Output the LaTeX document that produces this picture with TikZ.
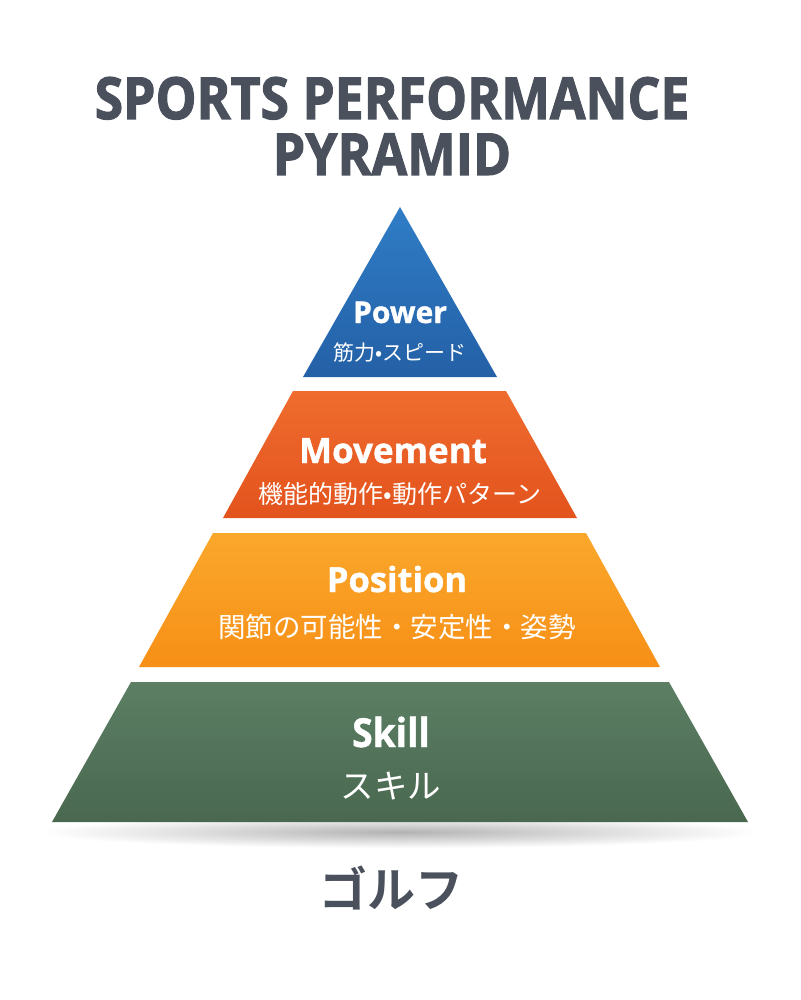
\documentclass[tikz,border=0pt]{standalone}
\usepackage{fontspec}
\setmainfont{Open Sans}
\newfontfamily\osb{Open Sans}[UprightFont=* Bold, FakeBold=1.2]
\newfontfamily\osbt{Open Sans}[UprightFont=* Bold, FakeBold=2]
\newfontfamily\jp{Noto Sans CJK JP}
\newfontfamily\jpb{Noto Sans CJK JP Bold}
\definecolor{titlegray}{HTML}{4A505C}
\definecolor{bluetop}{HTML}{2F7DC6}
\definecolor{bluebot}{HTML}{2460A6}
\definecolor{movtop}{HTML}{EF6C2E}
\definecolor{movbot}{HTML}{E3531D}
\definecolor{postop}{HTML}{FAA82C}
\definecolor{posbot}{HTML}{F78F16}
\definecolor{skitop}{HTML}{5C7F64}
\definecolor{skibot}{HTML}{49684F}
\begin{document}
\begin{tikzpicture}[x=1pt,y=-1pt,
  lbl/.style={text=white,anchor=base,inner sep=0pt},
  ttl/.style={text=titlegray,anchor=base,inner sep=0pt}]
\useasboundingbox[fill=white] (0,0) rectangle (800,1000);
% shadow
\shade[inner color=black!30,outer color=white] (400,832) ellipse (360 and 16);
% layers
\shade[top color=bluetop,bottom color=bluebot] (400,207) -- (497,377) -- (303,377) -- cycle;
\shade[top color=movtop,bottom color=movbot] (293,391) -- (506,391) -- (577,518) -- (223,518) -- cycle;
\shade[top color=postop,bottom color=posbot] (213,533) -- (586,533) -- (660,667) -- (139,667) -- cycle;
\shade[top color=skitop,bottom color=skibot] (131,682) -- (669,682) -- (748,822) -- (52,822) -- cycle;
% title
\node[ttl,font=\osbt\fontsize{58}{64}\selectfont] (t1) at (392,119) {\scalebox{0.89}[1]{SPORTS PERFORMANCE}};
\node[ttl,font=\osbt\fontsize{58}{64}\selectfont] (t2) at (392,175) {\scalebox{0.89}[1]{PYRAMID}};
% labels
\node[lbl,font=\osb\fontsize{30}{36}\selectfont] (p1) at (400,323) {Power};
\node[lbl,font=\jp\fontsize{21}{25}\selectfont] (p2) at (400,360) {筋力•スピード};
\node[lbl,font=\osb\fontsize{35}{40}\selectfont] (m1) at (393,463) {Movement};
\node[lbl,font=\jp\fontsize{25}{29}\selectfont] (m2) at (400,503) {機能的動作•動作パターン};
\node[lbl,font=\osb\fontsize{34.5}{40}\selectfont] (s1) at (397,592) {Position};
\node[lbl,font=\jp\fontsize{27.5}{32}\selectfont] (s2) at (397,637) {関節の可能性・安定性・姿勢};
\node[lbl,font=\osb\fontsize{40}{44}\selectfont] (k1) at (391,747) {\scalebox{0.93}[1]{Skill}};
\node[lbl,font=\jp\fontsize{33.5}{40}\selectfont] (k2) at (391,798) {スキル};
\node[ttl,font=\jpb\fontsize{48}{54}\selectfont] (g) at (391,907) {ゴルフ};
\end{tikzpicture}
\end{document}
